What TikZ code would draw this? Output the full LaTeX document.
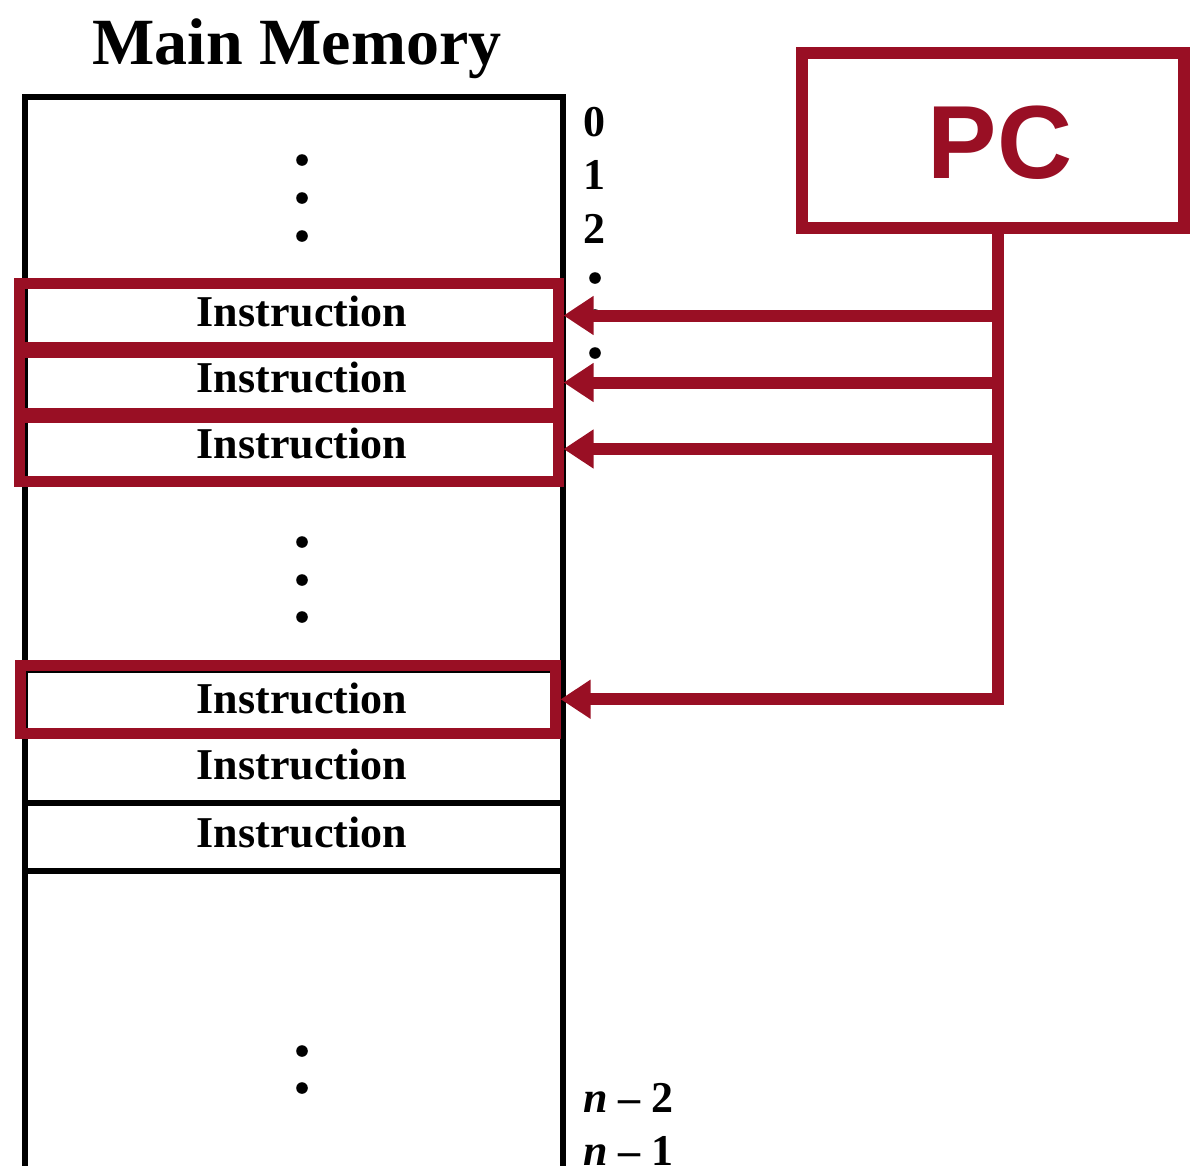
\documentclass[tikz,border=0pt]{standalone}
\usepackage{fontspec}
\setmainfont{Liberation Serif}
\newfontfamily\pcfont{Liberation Sans}
\usetikzlibrary{arrows.meta}
\definecolor{pcred}{RGB}{153,15,36}

\begin{document}
\begin{tikzpicture}[x=1pt,y=-1pt,
  memline/.style={line width=6pt,draw=black},
  row/.style={draw=black,line width=6pt,minimum width=538pt,inner sep=0pt,
    font=\fontsize{44}{48}\selectfont\bfseries,text height=29pt,text depth=8pt},
  hl/.style={draw=pcred,line width=11pt,inner sep=0pt,outer sep=5.5pt},
  ptr/.style={draw=pcred,line width=12pt,-{Triangle[length=30pt,width=37pt]}},
  addr/.style={font=\fontsize{44}{48}\selectfont\bfseries,inner sep=0pt},
  pcbox/.style={draw=pcred,line width=12pt,inner sep=0pt,text=pcred,
    font=\fontsize{104}{108}\selectfont\pcfont\bfseries,text height=75pt,text depth=0pt},
  memdot/.style={fill=black}
]
\useasboundingbox (0,0) rectangle (1190,1165);

% title
\node[font=\fontsize{66}{70}\selectfont\bfseries] (title) at (297,49) {Main Memory};

% memory frame (open at the bottom)
\draw[memline] (25,1170) -- (25,97) -- (563,97) -- (563,1170);

% instruction words
\node[row,minimum height=66pt] (r1) at (294,316) {\hspace*{16pt}Instruction};
\node[row,minimum height=66pt] (r2) at (294,382) {\hspace*{16pt}Instruction};
\node[row,minimum height=66pt] (r3) at (294,448) {\hspace*{16pt}Instruction};
\node[row,minimum height=65pt] (r4) at (294,702.5) {\hspace*{16pt}Instruction};
\node[row,minimum height=68pt] (r5) at (294,769) {\hspace*{16pt}Instruction};
\node[row,minimum height=68pt] (r6) at (294,837) {\hspace*{16pt}Instruction};

% ellipsis dots inside memory and beside the addresses
\foreach \y in {160,198,236,542,580,617,1051,1088}
  \fill[memdot] (302,\y) circle (5.8pt);
\foreach \y in {278,315,353}
  \fill[memdot] (595,\y) circle (5.8pt);

% addresses
\node[addr] (a0) at (594,122) {0};
\node[addr] (a1) at (594,175) {1};
\node[addr] (a2) at (594,229) {2};
\node[addr,anchor=base west] (an2) at (583,1112) {\textit{n} -- 2};
\node[addr,anchor=base west] (an1) at (583,1165) {\textit{n} -- 1};

% highlighted words
\node[hl,minimum width=538.5pt,minimum height=64.5pt] (hl1) at (288.75,315.5) {};
\node[hl,minimum width=538.5pt,minimum height=61pt] (hl2) at (288.75,382.5) {};
\node[hl,minimum width=538.5pt,minimum height=64pt] (hl3) at (288.75,449) {};
\node[hl,minimum width=535pt,minimum height=68.5pt] (hl4) at (287.5,699.25) {};

% program counter
\node[pcbox,minimum width=382.5pt,minimum height=175pt] (pc) at (992.75,140.5) {\hspace*{14.5pt}PC};
\coordinate (pcdrop) at (998,228);

% pointers from the PC
\draw[ptr] (pcdrop |- hl1.east) -- (hl1.east);
\draw[ptr] (pcdrop |- hl2.east) -- (hl2.east);
\draw[ptr] (pcdrop |- hl3.east) -- (hl3.east);
\draw[ptr] (pcdrop) |- (hl4.east);
\end{tikzpicture}
\end{document}
